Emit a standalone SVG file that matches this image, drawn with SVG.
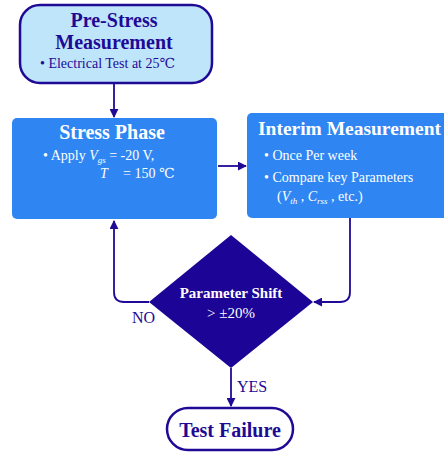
<svg xmlns="http://www.w3.org/2000/svg" width="444" height="453" viewBox="0 0 444 453" font-family="'Liberation Serif', 'Times New Roman', 'DejaVu Serif', serif">
<defs>
<marker id="ah" viewBox="0 0 10 10" refX="9" refY="5" markerWidth="5" markerHeight="5" orient="auto" markerUnits="strokeWidth">
<path d="M0,0 L10,5 L0,10 z" fill="#1f0a96"/>
</marker>
<style>
text{font-family:'Liberation Serif','Times New Roman','DejaVu Serif',serif;}
.t{font-weight:bold;font-size:20px;text-anchor:middle;}
.b{font-size:14px;}
.w{fill:#ffffff;}
.n{fill:#1f0a96;}
.conn{fill:none;stroke:#1f0a96;stroke-width:1.8;marker-end:url(#ah);}
.blue{fill:#2f86f2;}
.sub{font-size:9px;}
</style>
</defs>
<rect width="444" height="453" fill="#ffffff"/>
<g id="connectors">
<path class="conn" d="M114,83 L114,117"/>
<path class="conn" d="M218,166 L246,166"/>
<path class="conn" d="M350,218 L350,292 Q350,302 340,302 L314,302"/>
<path class="conn" d="M149,302 L124,302 Q114,302 114,292 L114,221"/>
<path class="conn" d="M231,368 L231,406"/>
<text x="132" y="323" class="n" style="font-size:16px">NO</text>
<text x="237" y="392" class="n" style="font-size:16px">YES</text>
</g>
<g id="pre-stress">
<rect x="20" y="5" width="192" height="78" rx="20" fill="#bfe5fb" stroke="#1f0a96" stroke-width="2.5"/>
<text x="114" y="27" class="t n">Pre-Stress</text>
<text x="114" y="49" class="t n">Measurement</text>
<text x="40" y="68" class="b n">•  Electrical Test at 25℃</text>
</g>
<g id="stress-phase">
<rect x="12" y="118" width="205" height="101" rx="5" class="blue"/>
<text x="112" y="139" class="t w">Stress Phase</text>
<text x="43" y="160" class="b w">•  Apply <tspan font-style="italic">V</tspan><tspan class="sub" font-style="italic" dy="3">gs</tspan><tspan dy="-3"> = -20 V,</tspan></text>
<text x="100" y="178" class="b w"><tspan font-style="italic">T</tspan><tspan x="123">= 150 ℃</tspan></text>
</g>
<g id="interim">
<rect x="247" y="113" width="205" height="105" rx="5" class="blue"/>
<text x="258" y="135" class="w" style="font-weight:bold;font-size:19px" textLength="183" lengthAdjust="spacingAndGlyphs">Interim Measurement</text>
<text x="264" y="160" class="b w">•  Once Per week</text>
<text x="264" y="182" class="b w">•  Compare key Parameters</text>
<text x="277" y="201" class="b w">(<tspan font-style="italic">V</tspan><tspan class="sub" font-style="italic" dy="3">th</tspan><tspan dy="-3"> , </tspan><tspan font-style="italic">C</tspan><tspan class="sub" font-style="italic" dy="3">rss</tspan><tspan dy="-3"> , etc.)</tspan></text>
</g>
<g id="decision">
<polygon points="231,235 313,302 231,368 149,302" fill="#1c0596"/>
<text x="231" y="298" class="w" style="font-weight:bold;font-size:15px;text-anchor:middle">Parameter Shift</text>
<text x="231" y="318" class="w" style="font-size:15px;text-anchor:middle">&gt; ±20%</text>
</g>
<g id="test-failure">
<rect x="167" y="408" width="126" height="42" rx="21" fill="#ffffff" stroke="#1f0a96" stroke-width="2.5"/>
<text x="230" y="437" class="t n">Test Failure</text>
</g>
</svg>
